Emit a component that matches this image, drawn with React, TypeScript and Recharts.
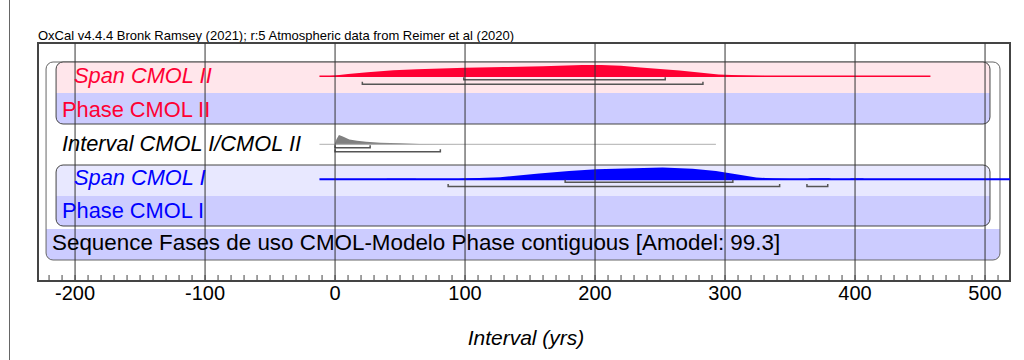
import React from 'react';
import {
  ComposedChart,
  XAxis,
  YAxis,
  Area,
  Line,
  ReferenceArea,
  ReferenceLine,
  Rectangle,
} from 'recharts';

// x domain (years) and plot height in px-like units (0 = top of frame)
const X_MIN = -228.5;
const X_MAX = 519.2;
const Y_MAX = 238;

const majorTicks = [-200, -100, 0, 100, 200, 300, 400, 500];
const minorTicks: number[] = [];
for (let t = -220; t <= 510; t += 10) minorTicks.push(t);

// Span CMOL II (modelled probability, relative)
const spanIIYears = [-12, 0, 10, 25, 45, 63, 100, 130, 160, 190, 205, 220, 235, 250, 265, 280, 295, 310, 330, 360, 458];
const spanIIProb = [0, 0.12, 0.26, 0.4, 0.56, 0.64, 0.77, 0.83, 0.9, 1, 1, 0.93, 0.79, 0.67, 0.54, 0.38, 0.21, 0.14, 0.09, 0.05, 0];
const spanIIRange = [-12, 458];
const spanII68 = [[99, 254]];
const spanII95 = [[21, 283]];

// Interval CMOL I/CMOL II
const intervalYears = [0, 1, 3, 6, 11, 17, 24, 35, 50, 65, 80, 95];
const intervalProb = [0, 0.53, 1, 0.84, 0.53, 0.39, 0.28, 0.19, 0.13, 0.06, 0.03, 0];
const intervalRange = [-12, 293];
const interval68 = [[0, 27]];
const interval95 = [[0, 81]];

// Span CMOL I
const spanIYears = [-12, 38, 40, 62, 64, 86, 90, 100, 127, 157, 180, 201, 230, 252, 275, 293, 311, 324, 337, 350, 362, 366, 380, 383, 395, 397, 406, 409, 519];
const spanIProb = [0, 0, 0.1, 0.1, 0, 0, 0.05, 0.12, 0.22, 0.52, 0.72, 0.86, 0.95, 1, 0.9, 0.72, 0.43, 0.2, 0.12, 0.08, 0.04, 0.15, 0.15, 0.04, 0.04, 0.12, 0.12, 0, 0];
const spanIRange = [-12, 519.2];
const spanI68 = [[177, 306]];
const spanI95 = [[87, 342], [363, 379]];

const rowLabels = [
  { text: 'Span CMOL II', x: 74, y: 83, size: 21.8, italic: true, color: '#ff0033' },
  { text: 'Phase CMOL II', x: 62, y: 117, size: 21.8, italic: false, color: '#ff0033' },
  { text: 'Interval CMOL I/CMOL II', x: 62, y: 150.5, size: 21.8, italic: true, color: '#000' },
  { text: 'Span CMOL I', x: 74, y: 185, size: 21.8, italic: true, color: '#0000ff' },
  { text: 'Phase CMOL I', x: 62, y: 218, size: 21.8, italic: false, color: '#0000ff' },
  { text: 'Sequence Fases de uso CMOL-Modelo Phase contiguous [Amodel: 99.3]', x: 52, y: 249.5, size: 22.4, italic: false, color: '#000' },
];

const RED = '#ff0033';
const BLUE = '#0000ff';
const LAVENDER = '#ccccff';
const FONT = "'Liberation Sans', Arial, sans-serif";

const density = (years: number[], prob: number[], base: number, h: number) =>
  years.map((x, i) => ({ x, y: base - prob[i] * h }));

const rangeLine = (r: number[], y: number) => [{ x: r[0], y }, { x: r[1], y }];

const bracket = (r: number[], y: number) => [
  { x: r[0], y: y - 2.5 },
  { x: r[0], y },
  { x: r[1], y },
  { x: r[1], y: y - 2.5 },
];

const rounded = (fill: string, stroke: string, radius: number | number[]) => (p: any) => (
  <Rectangle x={p.x} y={p.y} width={p.width} height={p.height} radius={radius as any} fill={fill} stroke={stroke} strokeWidth={1} />
);

const AxisTick = (props: any) => {
  const { x, y, payload } = props;
  const v = payload.value;
  return (
    <g>
      <line x1={x} x2={x} y1={y - 6} y2={y} stroke="#444" strokeWidth={1} />
      {majorTicks.includes(v) && (
        <text x={x} y={y + 18.5} textAnchor="middle" fontFamily={FONT} fontSize={20} fill="#000">
          {v}
        </text>
      )}
    </g>
  );
};

// box extents in axis units
const OUTER = [-222.3, 511.5];
const INNER = [-214.6, 503.8];

const App: React.FC = () => {
  const brackets: { d: { x: number; y: number }[]; key: string }[] = [];
  spanII68.forEach((r, i) => brackets.push({ d: bracket(r, 36.8), key: 's2a' + i }));
  spanII95.forEach((r, i) => brackets.push({ d: bracket(r, 41.3), key: 's2b' + i }));
  interval68.forEach((r, i) => brackets.push({ d: bracket(r, 104.7), key: 'ia' + i }));
  interval95.forEach((r, i) => brackets.push({ d: bracket(r, 108.7), key: 'ib' + i }));
  spanI68.forEach((r, i) => brackets.push({ d: bracket(r, 139.3), key: 's1a' + i }));
  spanI95.forEach((r, i) => brackets.push({ d: bracket(r, 143.6), key: 's1b' + i }));

  return (
    <div style={{ position: 'absolute', left: 0, top: 0, width: 1024, height: 360, background: '#fff' }}>
      <div style={{ position: 'absolute', left: 9, top: 0, width: 1, height: 360, background: '#666' }} />
      <ComposedChart width={1024} height={360} margin={{ top: 43, right: 14, bottom: 0, left: 38 }}>
        <XAxis
          type="number"
          dataKey="x"
          domain={[X_MIN, X_MAX]}
          allowDataOverflow
          ticks={minorTicks}
          interval={0}
          tickSize={0}
          tickMargin={0}
          tickLine={false}
          tick={<AxisTick />}
          axisLine={{ stroke: '#444', strokeWidth: 2 }}
          height={79}
        />
        <YAxis type="number" dataKey="y" domain={[0, Y_MAX]} reversed hide allowDataOverflow />

        {/* Sequence box */}
        <ReferenceArea x1={OUTER[0]} x2={OUTER[1]} y1={19} y2={217} shape={rounded('#fff', 'none', 7)} />
        <ReferenceArea x1={OUTER[0]} x2={OUTER[1]} y1={186} y2={217} shape={rounded(LAVENDER, 'none', [0, 0, 7, 7])} />
        <ReferenceArea x1={OUTER[0]} x2={OUTER[1]} y1={19} y2={217} shape={rounded('none', '#666', 7)} />

        {/* Phase CMOL II */}
        <ReferenceArea x1={INNER[0]} x2={INNER[1]} y1={19} y2={50} shape={rounded('#ffe6eb', 'none', [7, 7, 0, 0])} />
        <ReferenceArea x1={INNER[0]} x2={INNER[1]} y1={50} y2={81} shape={rounded(LAVENDER, 'none', [0, 0, 7, 7])} />
        <ReferenceArea x1={INNER[0]} x2={INNER[1]} y1={19} y2={81} shape={rounded('none', '#444', 7)} />

        {/* Phase CMOL I */}
        <ReferenceArea x1={INNER[0]} x2={INNER[1]} y1={122} y2={153} shape={rounded('#e8e8ff', 'none', [7, 7, 0, 0])} />
        <ReferenceArea x1={INNER[0]} x2={INNER[1]} y1={153} y2={183} shape={rounded(LAVENDER, 'none', [0, 0, 7, 7])} />
        <ReferenceArea x1={INNER[0]} x2={INNER[1]} y1={122} y2={183} shape={rounded('none', '#444', 7)} />

        {/* Span CMOL II */}
        <Area data={density(spanIIYears, spanIIProb, 34, 12)} dataKey="y" baseValue={34} type="linear" stroke="none" fill={RED} fillOpacity={1} isAnimationActive={false} />
        <Line data={rangeLine(spanIIRange, 33.2)} dataKey="y" stroke={RED} strokeWidth={1.6} dot={false} isAnimationActive={false} />

        {/* Interval */}
        <Line data={rangeLine(intervalRange, 101.3)} dataKey="y" stroke="#b0b0b0" strokeWidth={1} dot={false} isAnimationActive={false} />
        <Area data={density(intervalYears, intervalProb, 101.5, 9.5)} dataKey="y" baseValue={101.5} type="linear" stroke="none" fill="#808080" fillOpacity={1} isAnimationActive={false} />

        {/* Span CMOL I */}
        <Area data={density(spanIYears, spanIProb, 137, 12.5)} dataKey="y" baseValue={137} type="linear" stroke="none" fill={BLUE} fillOpacity={1} isAnimationActive={false} />
        <Line data={rangeLine(spanIRange, 136.2)} dataKey="y" stroke={BLUE} strokeWidth={2} dot={false} isAnimationActive={false} />

        {brackets.map((b) => (
          <Line key={b.key} data={b.d} dataKey="y" stroke="#555" strokeWidth={1.5} dot={false} isAnimationActive={false} />
        ))}

        {majorTicks.map((t) => (
          <ReferenceLine key={t} x={t} stroke="#333" strokeWidth={1} />
        ))}

        {/* frame */}
        <ReferenceArea x1={X_MIN} x2={X_MAX} y1={0} y2={Y_MAX} fill="none" stroke="#444" strokeWidth={2} fillOpacity={0} />

        <text x={38} y={40} fontFamily={FONT} fontSize={13} fill="#000">
          OxCal v4.4.4 Bronk Ramsey (2021); r:5 Atmospheric data from Reimer et al (2020)
        </text>
        <text x={526} y={345} textAnchor="middle" fontFamily={FONT} fontSize={21} fontStyle="italic" fill="#000">
          Interval (yrs)
        </text>
      </ComposedChart>
      {/* row labels sit above the plot layers */}
      <svg width={1024} height={360} style={{ position: 'absolute', left: 0, top: 0, pointerEvents: 'none' }}>
        {rowLabels.map((l) => (
          <text key={l.text} x={l.x} y={l.y} fontFamily={FONT} fontSize={l.size} fontStyle={l.italic ? 'italic' : 'normal'} fill={l.color}>
            {l.text}
          </text>
        ))}
      </svg>
    </div>
  );
};

export default App;
